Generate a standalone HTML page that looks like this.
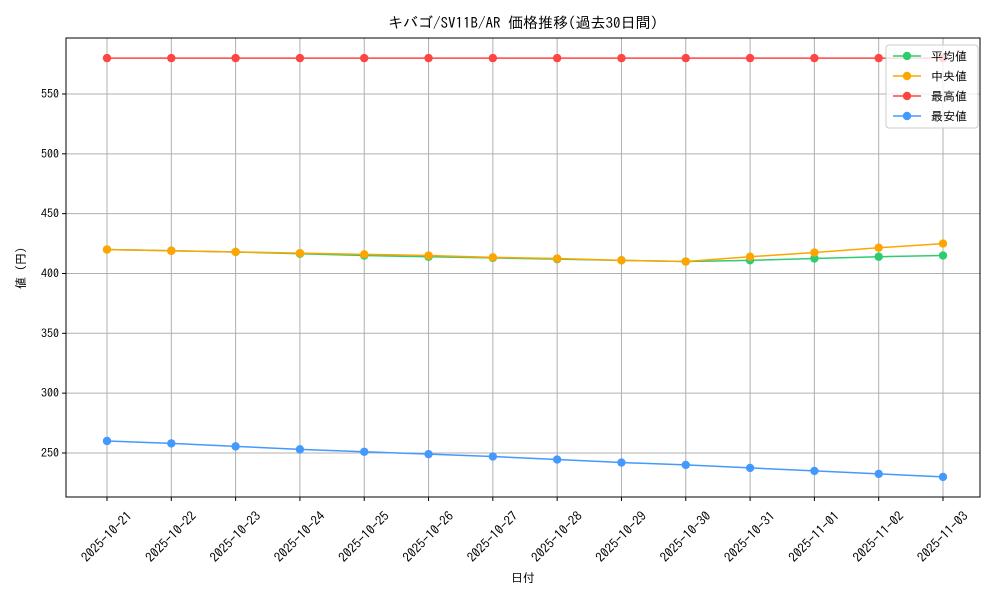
<!DOCTYPE html>
<html><head><meta charset="utf-8">
<style>
body{margin:0;background:#fff;}
svg text{font-family:"IPAGothic","Liberation Sans","Noto Sans CJK JP",sans-serif;fill:#000;}
</style></head>
<body>
<svg id="c" width="1000" height="600" xmlns="http://www.w3.org/2000/svg"></svg>
<script>
const dates=["2025-10-21","2025-10-22","2025-10-23","2025-10-24","2025-10-25","2025-10-26","2025-10-27","2025-10-28","2025-10-29","2025-10-30","2025-10-31","2025-11-01","2025-11-02","2025-11-03"];
const avgVals=[420,419,418,416.5,415,414,413,412,411,410,411,412.5,414,415];
const medVals=[420,419,418,417,416,415,413.5,412.5,411,410,414,417.5,421.5,425];
const maxVals=[580,580,580,580,580,580,580,580,580,580,580,580,580,580];
const minVals=[260,258,255.5,253,251,249,247,244.5,242,240,237.5,235,232.5,230];
const yTicks=[250,300,350,400,450,500,550];
const seriesNames=["平均値","中央値","最高値","最安値"];

const NS="http://www.w3.org/2000/svg";
const svg=document.getElementById('c');
const L=66,R=980,T=38,B=497,yMin=213.2,yMax=596.8;
const x=i=>107+i*(943-107)/(dates.length-1);
const y=v=>B-(v-yMin)/(yMax-yMin)*(B-T);
function mk(tag,attrs,parent){const e=document.createElementNS(NS,tag);for(const k in attrs)e.setAttribute(k,attrs[k]);(parent||svg).appendChild(e);return e;}

const grid=mk('g',{});


dates.forEach((d,i)=>{mk('line',{x1:x(i),x2:x(i),y1:T,y2:B,stroke:'#b0b0b0','stroke-width':1},grid);});
yTicks.forEach(v=>{mk('line',{x1:L,x2:R,y1:y(v),y2:y(v),stroke:'#b0b0b0','stroke-width':1},grid);});

const xa=mk('g',{});


dates.forEach((d,i)=>{
  mk('line',{x1:x(i),x2:x(i),y1:B,y2:B+4,stroke:'#000'},xa);
  const ax=x(i), ay=537;
  const t=mk('text',{x:ax,y:ay+4,'font-size':13,'text-anchor':'middle',transform:`rotate(-45 ${ax} ${ay})`},xa);
  t.textContent=d;
});
const ya=mk('g',{});


yTicks.forEach(v=>{
  mk('line',{x1:L-4,x2:L,y1:y(v),y2:y(v),stroke:'#000'},ya);
  const t=mk('text',{x:L-7,y:y(v)+4,'font-size':12,'text-anchor':'end'},ya);
  t.textContent=v;
});

const colors=["#2ecc71","#ffa500","#ff4444","#4499ff"];
const data=[avgVals,medVals,maxVals,minVals];
data.forEach((vals,s)=>{
  const g=mk('g',{});
  
  
  mk('polyline',{points:vals.map((v,i)=>x(i)+','+y(v)).join(' '),fill:'none',stroke:colors[s],'stroke-width':1.5},g);
  vals.forEach((v,i)=>{const c=mk('circle',{cx:x(i),cy:y(v),r:4.2,fill:colors[s]},g);
    
    });
});

const fr=mk('rect',{x:L,y:T,width:R-L,height:B-T,fill:'none',stroke:'#000','stroke-width':1});



const tt=mk('text',{x:523,y:28,'font-size':15,'text-anchor':'middle'});tt.textContent="キバゴ/SV11B/AR 価格推移(過去30日間)";


const xt=mk('text',{x:523,y:582,'font-size':12,'text-anchor':'middle'});xt.textContent="日付";


const yt=mk('text',{x:25,y:268,'font-size':12,'text-anchor':'middle',transform:'rotate(-90 25 268)'});yt.textContent="値 (円)";



const lg=mk('g',{});


mk('rect',{x:886,y:45,width:92,height:83,rx:3,fill:'#fff','fill-opacity':0.8,stroke:'#ccc'},lg);
seriesNames.forEach((n,i)=>{
  const e=mk('g',{},lg);
  
  
  const yy=56+i*20;
  mk('line',{x1:893,x2:921,y1:yy,y2:yy,stroke:colors[i],'stroke-width':1.5},e);
  mk('circle',{cx:907,cy:yy,r:4.2,fill:colors[i]},e);
  const t=mk('text',{x:931,y:yy+4.5,'font-size':12},e);t.textContent=n;
});
</script>
</body></html>
